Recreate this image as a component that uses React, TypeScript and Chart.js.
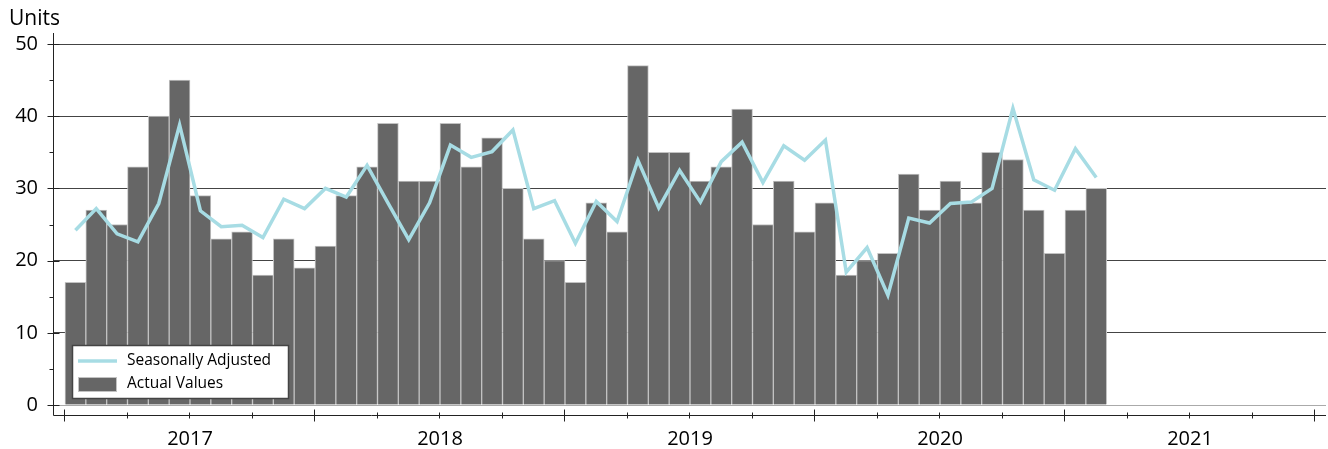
import { useEffect, useRef } from "react";
import { Chart, registerables } from "chart.js";

Chart.register(...registerables);

const YEARS = ["2017", "2018", "2019", "2020", "2021"];

// Monthly values, Jan 2017 .. Feb 2021
const ACTUAL_VALUES = [
  17, 27, 25, 33, 40, 45, 29, 23, 24, 18, 23, 19,
  22, 29, 33, 39, 31, 31, 39, 33, 37, 30, 23, 20,
  17, 28, 24, 47, 35, 35, 31, 33, 41, 25, 31, 24,
  28, 18, 20, 21, 32, 27, 31, 28, 35, 34, 27, 21,
  27, 30,
];

const SEASONALLY_ADJUSTED = [
  24.2, 27.2, 23.7, 22.6, 27.9, 38.8, 26.9, 24.7, 24.9, 23.2, 28.5, 27.2,
  30.0, 28.8, 33.2, 28.0, 22.9, 28.0, 36.0, 34.3, 35.1, 38.1, 27.2, 28.3,
  22.4, 28.2, 25.4, 33.9, 27.3, 32.5, 28.1, 33.7, 36.4, 30.8, 35.9, 33.9,
  36.7, 18.4, 21.8, 15.2, 25.9, 25.2, 27.9, 28.1, 30.0, 41.1, 31.2, 29.75,
  35.5, 31.5,
];

const Y_TICKS = [0, 10, 20, 30, 40, 50];

const FONT = "'Open Sans', 'DejaVu Sans', sans-serif";
const LINE_COLOR = "#a7dce4";
const BAR_COLOR = "#666666";
const BAR_BORDER = "#c2c2c2";
const AXIS_COLOR = "#222222";

const axesPlugin = {
  id: "customAxes",
  afterDraw(chart: any) {
    const ctx = chart.ctx;
    const x = chart.scales.x;
    const y = chart.scales.y;
    const area = chart.chartArea;
    const axisX = Math.round(area.left) - 0.5;
    const axisY = Math.round(area.bottom) + 10.5;
    ctx.save();
    ctx.strokeStyle = AXIS_COLOR;
    ctx.lineWidth = 1;
    ctx.beginPath();
    // y axis line
    ctx.moveTo(axisX, area.top - 11);
    ctx.lineTo(axisX, axisY);
    // y ticks
    for (let v = 0; v <= 50; v += 5) {
      const py = Math.round(y.getPixelForValue(v)) + 0.5;
      if (v % 10 === 0) {
        ctx.moveTo(axisX - 6, py);
        ctx.lineTo(axisX + 6, py);
      } else {
        ctx.moveTo(axisX - 4, py);
        ctx.lineTo(axisX, py);
      }
    }
    // x axis line
    ctx.moveTo(axisX, axisY);
    ctx.lineTo(area.right, axisY);
    // x ticks
    for (let m = 0; m <= YEARS.length * 12; m += 3) {
      const px = Math.round(x.getPixelForValue(m)) - 0.5;
      if (m % 12 === 0) {
        ctx.moveTo(px, axisY - 6);
        ctx.lineTo(px, axisY + 6);
      } else {
        ctx.moveTo(px, axisY - 3);
        ctx.lineTo(px, axisY + 3);
      }
    }
    ctx.stroke();

    // unit label
    ctx.fillStyle = "#000";
    ctx.font = `21px ${FONT}`;
    ctx.textAlign = "left";
    ctx.textBaseline = "alphabetic";
    ctx.fillText("Units", 9, 25);

    // legend
    const lx = 72.5, ly = 345.5, lw = 216, lh = 53;
    ctx.fillStyle = "#ffffff";
    ctx.fillRect(lx, ly, lw, lh);
    ctx.strokeStyle = "#444";
    ctx.lineWidth = 1.5;
    ctx.strokeRect(lx, ly, lw, lh);
    const ds = chart.data.datasets;
    // line sample
    ctx.strokeStyle = LINE_COLOR;
    ctx.lineWidth = 3.5;
    ctx.beginPath();
    ctx.moveTo(78, 361);
    ctx.lineTo(117, 361);
    ctx.stroke();
    // bar sample
    ctx.fillStyle = BAR_COLOR;
    ctx.fillRect(78, 377, 39, 15);
    ctx.strokeStyle = BAR_BORDER;
    ctx.lineWidth = 1;
    ctx.strokeRect(78.5, 377.5, 38, 14);
    ctx.fillStyle = "#000";
    ctx.font = `15.5px ${FONT}`;
    ctx.textBaseline = "middle";
    ctx.fillText(ds[0].label, 127, 361);
    ctx.fillText(ds[1].label, 127, 384);
    ctx.restore();
  },
};

export default function App() {
  const canvasRef = useRef<HTMLCanvasElement | null>(null);

  useEffect(() => {
    document.body.style.margin = "0";
    const canvas = canvasRef.current;
    if (!canvas) return;
    const months = YEARS.length * 12;
    const chart = new Chart(canvas, {
      type: "bar",
      data: {
        datasets: [
          {
            type: "line",
            label: "Seasonally Adjusted",
            data: SEASONALLY_ADJUSTED.map((v, i) => ({ x: i + 0.5, y: v })),
            borderColor: LINE_COLOR,
            borderWidth: 3.5,
            pointRadius: 0,
            tension: 0,
            order: 0,
          } as any,
          {
            type: "bar",
            label: "Actual Values",
            data: ACTUAL_VALUES.map((v, i) => ({ x: i + 0.5, y: v })),
            backgroundColor: BAR_COLOR,
            borderColor: BAR_BORDER,
            borderWidth: 1,
            barPercentage: 1,
            categoryPercentage: 1,
            order: 1,
          } as any,
        ],
      },
      options: {
        responsive: false,
        animation: false,
        devicePixelRatio: 1,
        layout: { padding: { left: 0, right: 2, top: 44, bottom: 0 } },
        plugins: {
          legend: { display: false },
          tooltip: { enabled: false },
          title: { display: false },
        },
        scales: {
          x: {
            type: "linear",
            offset: false,
            min: -0.528,
            max: months + 0.528,
            grid: { display: false },
            border: { display: false },
            afterFit: (s: any) => {
              s.height = 44;
            },
            afterBuildTicks: (s: any) => {
              s.ticks = YEARS.map((_, i) => ({ value: i * 12 + 6 }));
            },
            ticks: {
              autoSkip: false,
              maxRotation: 0,
              padding: 14,
              color: "#000",
              font: { family: FONT, size: 20 },
              callback: (v: any) => YEARS[Math.round((Number(v) - 6) / 12)],
            },
          },
          y: {
            type: "linear",
            min: 0,
            max: 50,
            afterFit: (s: any) => {
              s.width = 54;
            },
            afterBuildTicks: (s: any) => {
              s.ticks = Y_TICKS.map((v) => ({ value: v }));
            },
            border: { display: false },
            grid: {
              drawTicks: false,
              color: (c: any) => (c.tick && c.tick.value === 0 ? "#aaaaaa" : "#444444"),
              lineWidth: 1,
            },
            ticks: {
              padding: 16,
              color: "#000",
              font: { family: FONT, size: 20 },
            },
          },
        },
      },
      plugins: [axesPlugin],
    });
    return () => chart.destroy();
  }, []);

  return (
    <div style={{ width: 1328, height: 449, background: "#fff" }}>
      <canvas ref={canvasRef} width={1328} height={449} style={{ display: "block" }} />
    </div>
  );
}
